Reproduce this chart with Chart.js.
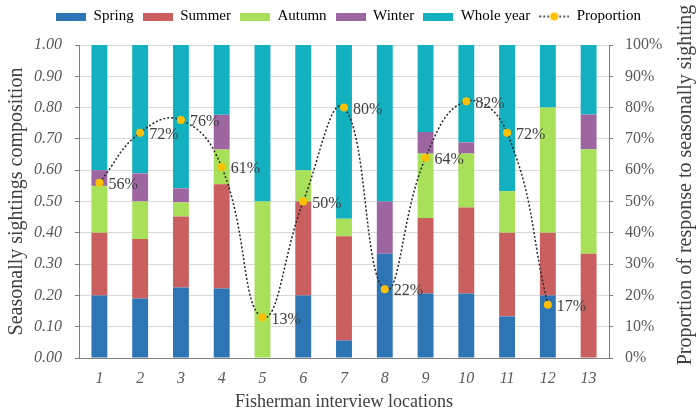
<!DOCTYPE html>
<html lang="en">
<head>
  <meta charset="UTF-8">
  <title>Seasonally sightings composition</title>
  <script src="https://cdn.jsdelivr.net/npm/chart.js"></script>
  <style>
    body {
      margin: 0;
      background: #fff;
    }
  </style>
</head>
<body>
  <canvas id="chart" width="697" height="416"></canvas>

  <script>
    // Values
    const locations = ['1', '2', '3', '4', '5', '6', '7', '8', '9', '10', '11', '12', '13'];
    const spring    = [0.20, 0.19, 0.225, 0.222, 0, 0.20, 0.056, 0.333, 0.206, 0.206, 0.133, 0.20, 0];
    const summer    = [0.20, 0.19, 0.227, 0.333, 0, 0.30, 0.333, 0, 0.241, 0.275, 0.267, 0.20, 0.333];
    const autumn    = [0.15, 0.12, 0.045, 0.111, 0.50, 0.10, 0.056, 0, 0.206, 0.172, 0.133, 0.40, 0.334];
    const winter    = [0.05, 0.09, 0.045, 0.111, 0, 0, 0, 0.167, 0.069, 0.036, 0, 0, 0.111];
    const wholeYear = [0.40, 0.41, 0.458, 0.223, 0.50, 0.40, 0.555, 0.50, 0.278, 0.311, 0.467, 0.20, 0.222];
    const proportion = [56, 72, 76, 61, 13, 50, 80, 22, 64, 82, 72, 17];

    const serif = "'Liberation Serif', 'Times New Roman', serif";
    const textColor = '#404040';
    const axisColor = '#7f7f7f';

    // little canvases used as legend symbols
    function swatch(color) {
      const c = document.createElement('canvas');
      c.width = 30; c.height = 8;
      const g = c.getContext('2d');
      g.fillStyle = color;
      g.fillRect(0, 0, 30, 8);
      return c;
    }
    function lineSwatch() {
      const c = document.createElement('canvas');
      c.width = 30; c.height = 10;
      const g = c.getContext('2d');
      g.strokeStyle = '#262626';
      g.lineWidth = 1.5;
      g.setLineDash([2, 2]);
      g.beginPath();
      g.moveTo(0, 5); g.lineTo(30, 5);
      g.stroke();
      g.fillStyle = '#FFC000';
      g.beginPath();
      g.arc(15, 5, 4, 0, Math.PI * 2);
      g.fill();
      return c;
    }

    function barSet(label, data, color) {
      return {
        type: 'bar',
        label: label,
        data: data,
        backgroundColor: color,
        borderWidth: 0,
        barPercentage: 0.39,
        categoryPercentage: 1,
        yAxisID: 'y',
        order: 1
      };
    }

    // extra room under the legend
    const legendGap = {
      id: 'legendGap',
      beforeInit(chart) {
        const fit = chart.legend.fit;
        chart.legend.fit = function () {
          fit.call(this);
          this.height += 11;
        };
      }
    };

    // percentage labels next to the proportion points
    const pointLabels = {
      id: 'pointLabels',
      afterDatasetsDraw(chart) {
        const ctx = chart.ctx;
        const idx = chart.data.datasets.length - 1;
        const meta = chart.getDatasetMeta(idx);
        ctx.save();
        ctx.font = '16px ' + serif;
        ctx.fillStyle = textColor;
        ctx.textAlign = 'left';
        ctx.textBaseline = 'middle';
        meta.data.forEach((pt, i) => {
          ctx.fillText(proportion[i] + '%', pt.x + 9, pt.y + 2);
        });
        ctx.restore();
      }
    };

    // right axis title, reading bottom to top like the left one
    const rightTitle = {
      id: 'rightTitle',
      afterDraw(chart) {
        const ctx = chart.ctx;
        const s = chart.scales.y1;
        ctx.save();
        ctx.translate(s.right - 11, 185);
        ctx.rotate(-Math.PI / 2);
        ctx.font = '20px ' + serif;
        ctx.fillStyle = textColor;
        ctx.textAlign = 'center';
        ctx.textBaseline = 'middle';
        ctx.fillText('Proportion of response to seasonally sighting', 0, 0);
        ctx.restore();
      }
    };

    const ctx = document.getElementById('chart').getContext('2d');
    new Chart(ctx, {
      data: {
        labels: locations,
        datasets: [
          barSet('Spring', spring, '#2E75B6'),
          barSet('Summer', summer, '#C95F5F'),
          barSet('Autumn', autumn, '#A9E05A'),
          barSet('Winter', winter, '#9E66A0'),
          barSet('Whole year', wholeYear, '#13B1C0'),
          {
            type: 'line',
            label: 'Proportion',
            data: proportion,
            yAxisID: 'y1',
            borderColor: '#262626',
            borderWidth: 1.5,
            borderDash: [2, 2],
            tension: 0.45,
            pointRadius: 4,
            pointBackgroundColor: '#FFC000',
            pointBorderColor: '#FFC000',
            pointBorderWidth: 0,
            order: 0
          }
        ]
      },
      options: {
        responsive: false,
        animation: false,
        layout: { padding: 0 },
        plugins: {
          tooltip: { enabled: false },
          legend: {
            position: 'top',
            labels: {
              usePointStyle: true,
              pointStyleWidth: 30,
              boxHeight: 8,
              padding: 9,
              color: textColor,
              font: { family: serif, size: 15 },
              generateLabels: chart => chart.data.datasets.map((ds, i) => ({
                text: ds.label,
                pointStyle: i === 5 ? lineSwatch() : swatch(ds.backgroundColor),
                fillStyle: 'transparent',
                strokeStyle: 'transparent',
                lineWidth: 0,
                hidden: false,
                datasetIndex: i
              }))
            }
          }
        },
        scales: {
          x: {
            stacked: true,
            grid: { display: false },
            border: { display: true, color: axisColor },
            ticks: {
              color: '#595959',
              padding: 3,
              font: { family: serif, size: 16, style: 'italic' }
            },
            title: {
              display: true,
              text: 'Fisherman interview locations',
              color: textColor,
              font: { family: serif, size: 18 },
              padding: { top: 0, bottom: 3 }
            },
            afterFit(scale) { scale.height = 58; }
          },
          y: {
            stacked: true,
            position: 'left',
            min: 0,
            max: 1,
            grid: { color: '#d9d9d9', tickColor: axisColor, tickLength: 4 },
            border: { display: true, color: axisColor },
            ticks: {
              stepSize: 0.1,
              padding: 13,
              color: '#595959',
              font: { family: serif, size: 16, style: 'italic' },
              callback: v => v.toFixed(2)
            },
            title: {
              display: true,
              text: 'Seasonally sightings composition',
              color: textColor,
              font: { family: serif, size: 20 },
              padding: { top: 5, bottom: 0 }
            },
            afterFit(scale) { scale.width = 79; }
          },
          y1: {
            position: 'right',
            min: 0,
            max: 100,
            grid: { drawOnChartArea: false, tickColor: axisColor, tickLength: 4 },
            border: { display: true, color: axisColor },
            ticks: {
              stepSize: 10,
              padding: 12,
              color: '#595959',
              font: { family: serif, size: 16 },
              callback: v => v + '%'
            },
            afterFit(scale) { scale.width = 88; }
          }
        }
      },
      plugins: [legendGap, pointLabels, rightTitle]
    });
  </script>
</body>
</html>
